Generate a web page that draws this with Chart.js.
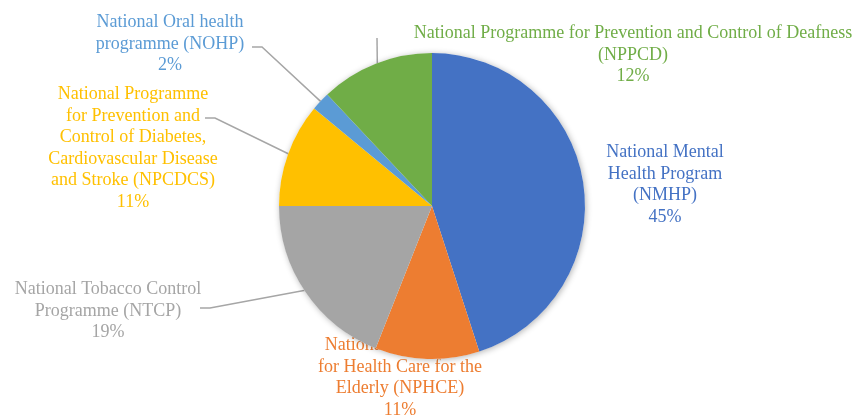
<!DOCTYPE html>
<html>
<head>
<meta charset="utf-8">
<script src="https://cdn.jsdelivr.net/npm/chart.js@4"></script>
<style>
  html, body { margin: 0; padding: 0; background: #fff; }
  #wrap { width: 860px; height: 415px; position: relative; }
</style>
</head>
<body>
<div id="wrap"><canvas id="pie" width="860" height="415"></canvas></div>
<script>
// programmes, clockwise from 12 o'clock
const programmes = ['NMHP', 'NPHCE', 'NTCP', 'NPCDCS', 'NOHP', 'NPPCD'];
const shares = [45, 11, 19, 11, 2, 12];
const sliceColors = ['#4472C4', '#ED7D31', '#A5A5A5', '#FFC000', '#5B9BD5', '#70AD47'];
const labelLines = [
  ['National Mental', 'Health Program', '(NMHP)'],
  ['National Programme', 'for Health Care for the', 'Elderly (NPHCE)'],
  ['National Tobacco Control', 'Programme (NTCP)'],
  ['National Programme', 'for Prevention and', 'Control of Diabetes,', 'Cardiovascular Disease', 'and Stroke (NPCDCS)'],
  ['National Oral health', 'programme (NOHP)'],
  ['National Programme for Prevention and Control of Deafness', '(NPPCD)']
];

// where each label block sits (centre x, first baseline y) and leader elbow
const labelLayout = [
  { x: 665, y: 157, leader: null },
  { x: 400, y: 350, leader: null },
  { x: 108, y: 294, leader: [[200, 308], [210, 308]] },
  { x: 133, y: 99,  leader: [[205, 118], [215, 118]] },
  { x: 170, y: 27,  leader: [[252, 47], [262, 47]] },
  { x: 633, y: 38,  leader: [[377, 38]] }
];

const FONT = '18px "Liberation Serif", "DejaVu Serif", serif';
const LINE_H = 21.5;

const pieLabels = {
  id: 'pieLabels',
  beforeDatasetsDraw(chart) {
    const ctx = chart.ctx;
    const meta = chart.getDatasetMeta(0);
    ctx.save();
    ctx.font = FONT;
    ctx.textAlign = 'center';
    ctx.textBaseline = 'alphabetic';
    meta.data.forEach((arc, i) => {
      const lay = labelLayout[i];
      const lines = labelLines[i].concat([shares[i] + '%']);
      ctx.fillStyle = sliceColors[i];
      lines.forEach((t, k) => ctx.fillText(t, lay.x, lay.y + k * LINE_H));
      if (lay.leader) {
        const mid = (arc.startAngle + arc.endAngle) / 2;
        const r = arc.outerRadius * 0.97;
        ctx.strokeStyle = '#A6A6A6';
        ctx.lineWidth = 1.5;
        ctx.beginPath();
        ctx.moveTo(lay.leader[0][0], lay.leader[0][1]);
        lay.leader.slice(1).forEach(p => ctx.lineTo(p[0], p[1]));
        ctx.lineTo(arc.x + Math.cos(mid) * r, arc.y + Math.sin(mid) * r);
        ctx.stroke();
      }
    });
    // soft shadow disc behind the pie
    const a0 = meta.data[0];
    ctx.shadowColor = 'rgba(0,0,0,0.3)';
    ctx.shadowBlur = 6;
    ctx.shadowOffsetX = 1;
    ctx.shadowOffsetY = 1;
    ctx.fillStyle = '#fff';
    ctx.beginPath();
    ctx.arc(a0.x, a0.y, a0.outerRadius, 0, Math.PI * 2);
    ctx.fill();
    ctx.restore();
  }
};

new Chart(document.getElementById('pie'), {
  type: 'pie',
  data: {
    labels: programmes,
    datasets: [{
      data: shares,
      backgroundColor: sliceColors,
      borderWidth: 0
    }]
  },
  options: {
    responsive: false,
    animation: false,
    devicePixelRatio: 1,
    layout: { padding: { left: 279, right: 275, top: 53, bottom: 56 } },
    plugins: {
      legend: { display: false },
      tooltip: { enabled: false }
    }
  },
  plugins: [pieLabels]
});
</script>
</body>
</html>
